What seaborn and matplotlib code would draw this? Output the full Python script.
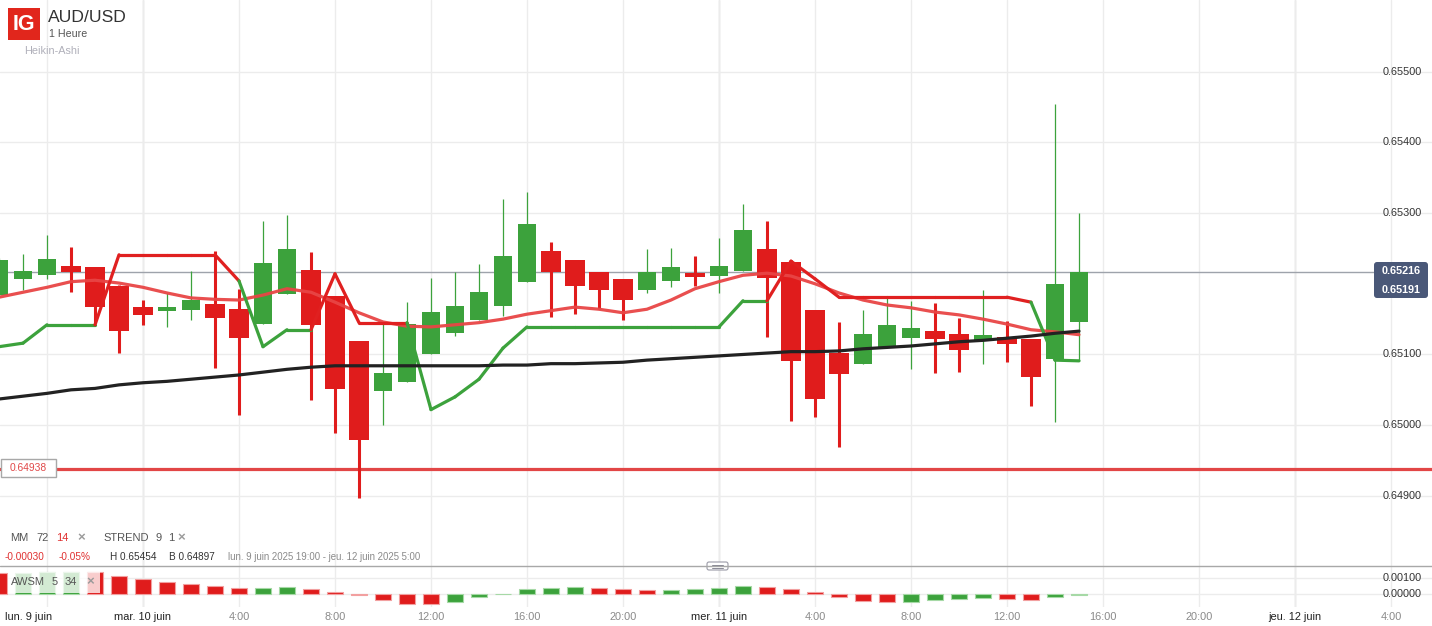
import matplotlib
matplotlib.use("Agg")
import matplotlib.pyplot as plt
import matplotlib.transforms as mtransforms
from matplotlib.patches import FancyBboxPatch, Rectangle
from matplotlib.lines import Line2D
import pandas as pd
import seaborn as sns

sns.set_theme(style="white")
plt.rcParams['font.family'] = ['Liberation Sans', 'DejaVu Sans']

W, H = 1432, 626

# Heures depuis mar. 10 juin 00:00 (bougies horaires Heikin-Ashi)
heures = list(range(-6, 40))
ha_open = [0.65184, 0.65207, 0.65212, 0.65225, 0.65224, 0.65197, 0.65167, 0.65162, 0.65163, 0.65171,
           0.65164, 0.65143, 0.65186, 0.65220, 0.65183, 0.65119, 0.65048, 0.65061, 0.65101, 0.65130,
           0.65149, 0.65169, 0.65203, 0.65246, 0.65234, 0.65217, 0.65207, 0.65191, 0.65204, 0.65215,
           0.65211, 0.65218, 0.65249, 0.65231, 0.65163, 0.65102, 0.65087, 0.65109, 0.65123, 0.65133,
           0.65129, 0.65121, 0.65125, 0.65122, 0.65094, 0.65146]
ha_close = [0.65234, 0.65218, 0.65235, 0.65217, 0.65167, 0.65133, 0.65156, 0.65167, 0.65177, 0.65152,
            0.65123, 0.65229, 0.65249, 0.65142, 0.65051, 0.64979, 0.65074, 0.65143, 0.65160, 0.65169,
            0.65188, 0.65239, 0.65285, 0.65217, 0.65197, 0.65191, 0.65177, 0.65217, 0.65224, 0.65210,
            0.65225, 0.65276, 0.65208, 0.65091, 0.65037, 0.65072, 0.65129, 0.65142, 0.65137, 0.65122,
            0.65106, 0.65128, 0.65115, 0.65068, 0.65200, 0.65216]
ha_high = [0.65236, 0.65242, 0.65269, 0.65252, 0.65224, 0.65198, 0.65177, 0.65187, 0.65218, 0.65246,
           0.65193, 0.65289, 0.65297, 0.65245, 0.65183, 0.65119, 0.65145, 0.65174, 0.65208, 0.65217,
           0.65228, 0.65320, 0.65330, 0.65259, 0.65234, 0.65217, 0.65207, 0.65249, 0.65251, 0.65239,
           0.65265, 0.65313, 0.65289, 0.65234, 0.65163, 0.65146, 0.65163, 0.65180, 0.65176, 0.65173,
           0.65152, 0.65191, 0.65147, 0.65122, 0.65454, 0.65300]
ha_low = [0.65181, 0.65191, 0.65207, 0.65188, 0.65145, 0.65102, 0.65142, 0.65139, 0.65149, 0.65081,
          0.65014, 0.65143, 0.65186, 0.65036, 0.64989, 0.64897, 0.65000, 0.65061, 0.65101, 0.65126,
          0.65149, 0.65154, 0.65203, 0.65153, 0.65157, 0.65164, 0.65149, 0.65187, 0.65195, 0.65197,
          0.65187, 0.65218, 0.65125, 0.65006, 0.65012, 0.64969, 0.65087, 0.65109, 0.65079, 0.65074,
          0.65075, 0.65087, 0.65089, 0.65027, 0.65005, 0.65091]

mm72 = [0.65037, 0.65041, 0.65045, 0.65050, 0.65052, 0.65057, 0.65060, 0.65062, 0.65065, 0.65068,
        0.65071, 0.65075, 0.65079, 0.65082, 0.65084, 0.65084, 0.65084, 0.65084, 0.65084, 0.65084,
        0.65084, 0.65085, 0.65085, 0.65087, 0.65087, 0.65088, 0.65089, 0.65092, 0.65094, 0.65096,
        0.65098, 0.65100, 0.65102, 0.65104, 0.65104, 0.65105, 0.65108, 0.65110, 0.65112, 0.65115,
        0.65118, 0.65120, 0.65123, 0.65126, 0.65130, 0.65133]
mm14 = [0.65181, 0.65188, 0.65195, 0.65203, 0.65205, 0.65201, 0.65195, 0.65187, 0.65180, 0.65178,
        0.65177, 0.65184, 0.65193, 0.65188, 0.65174, 0.65159, 0.65146, 0.65140, 0.65139, 0.65142,
        0.65145, 0.65150, 0.65157, 0.65162, 0.65167, 0.65164, 0.65159, 0.65164, 0.65177, 0.65193,
        0.65203, 0.65212, 0.65215, 0.65211, 0.65200, 0.65187, 0.65177, 0.65170, 0.65166, 0.65160,
        0.65156, 0.65150, 0.65143, 0.65135, 0.65132, 0.65128]
strend = [0.65111, 0.65116, 0.65142, 0.65142, 0.65142, 0.65241, 0.65241, 0.65241, 0.65241, 0.65241,
          0.65204, 0.65111, 0.65135, 0.65135, 0.65214, 0.65145, 0.65145, 0.65145, 0.65022, 0.65040,
          0.65065, 0.65109, 0.65139, 0.65139, 0.65139, 0.65139, 0.65139, 0.65139, 0.65139, 0.65139,
          0.65139, 0.65176, 0.65176, 0.65232, 0.65207, 0.65181, 0.65181, 0.65181, 0.65181, 0.65181,
          0.65181, 0.65181, 0.65181, 0.65174, 0.65092, 0.65091]
strend_dir = "ggggg" + "rrrrrr" + "ggg" + "rrrr" + "g" * 15 + "r" * 11 + "gg"
awsm = [0.00129, 0.00133, 0.00136, 0.00139, 0.00137, 0.00113, 0.00096, 0.00075, 0.00061, 0.00050,
        0.00036, 0.00039, 0.00046, 0.00031, 0.00014, -0.00008, -0.00038, -0.00063, -0.00064, -0.00052,
        -0.00021, 0.00003, 0.00031, 0.00038, 0.00042, 0.00039, 0.00031, 0.00023, 0.00027, 0.00031,
        0.00038, 0.00050, 0.00046, 0.00029, 0.00011, -0.00019, -0.00042, -0.00052, -0.00048, -0.00039,
        -0.00029, -0.00027, -0.00031, -0.00036, -0.00019, -0.00004]

niveau_rouge = 0.64938
dernier_prix = 0.65216
prix_ticks = [0.649, 0.650, 0.651, 0.653, 0.654, 0.655]
prix_labels = ["0.64900", "0.65000", "0.65100", "0.65300", "0.65400", "0.65500"]
awsm_ticks = [0.0, 0.001]
awsm_labels = ["0.00000", "0.00100"]
x_ticks = [0, 4, 8, 12, 16, 20, 24, 28, 32, 36, 40, 44, 48, 52]
x_labels = ["mar. 10 juin", "4:00", "8:00", "12:00", "16:00", "20:00", "mer. 11 juin",
            "4:00", "8:00", "12:00", "16:00", "20:00", "jeu. 12 juin", "4:00"]
jours = [0, 24, 48]

VERT = '#3ca23c'
ROUGE = '#e01c1c'

fig = plt.figure(figsize=(W / 100, H / 100), dpi=100)
fig.patch.set_facecolor('white')
pix = mtransforms.Affine2D().scale(1 / W, -1 / H).translate(0, 1) + fig.transFigure

ax = fig.add_axes([0, 1 - 566 / H, 1, 566 / H])
axb = fig.add_axes([0, 1 - 607 / H, 1, (607 - 566) / H])

for a in (ax, axb):
    a.set_facecolor('white')
    for s in a.spines.values():
        s.set_visible(False)
    a.set_xticks(list(range(-4, 56, 4)))
    a.grid(True, color='#ececec', lw=1)
    a.tick_params(length=0, labelbottom=False, labelleft=False)
    for j in jours:
        a.axvline(j, color='#d6d6d6', lw=1, zorder=0.5)

# bougies
df = pd.DataFrame(dict(h=heures, o=ha_open, hi=ha_high, lo=ha_low, c=ha_close))
df['up'] = df.c >= df.o
up, dn = df[df.up], df[~df.up]
ax.vlines(up.h, up.lo, up.hi, color=VERT, lw=0.9, zorder=2)
ax.vlines(dn.h, dn.lo, dn.hi, color=ROUGE, lw=2.2, zorder=2)
ax.bar(up.h, (up.c - up.o), bottom=up.o, width=0.75, color=VERT, lw=0, zorder=2)
ax.bar(dn.h, (dn.o - dn.c), bottom=dn.c, width=0.83, color=ROUGE, lw=0, zorder=2)

# moyennes mobiles
sns.lineplot(x=heures, y=mm72, ax=ax, color='#222222', lw=2.3, zorder=4)
sns.lineplot(x=heures, y=mm14, ax=ax, color='#e84545', lw=2.3, alpha=0.95, zorder=3)

# supertrend
for i in range(1, len(heures)):
    col = VERT if strend_dir[i] == 'g' else '#e02020'
    ax.plot(heures[i - 1:i + 1], strend[i - 1:i + 1], color=col, lw=2.3, zorder=3.5,
            solid_capstyle='round')

ax.axhline(dernier_prix, xmax=1374 / W, color='#9ea3ab', lw=1, zorder=1.5)
ax.axhline(niveau_rouge, color='#e24646', lw=2.3, zorder=1.5)

ax.set_yticks(prix_ticks)
ax.set_xlim(-143 / 24, (W - 143) / 24)
ax.set_ylim(0.648008, 0.656014)

# AWSM
cols = [ROUGE]
for i in range(1, len(awsm)):
    cols.append(VERT if awsm[i] > awsm[i - 1] else ROUGE)
edges = ['#f2a0a0' if c == ROUGE else '#a6d9a6' for c in cols]
axb.bar(heures, awsm, width=0.7, color=cols, edgecolor=edges, lw=0.8, zorder=2)
axb.set_yticks(awsm_ticks)
axb.set_xlim(-143 / 24, (W - 143) / 24)
axb.set_ylim(-0.0008125, 0.00175)


def t(x, y, s, **kw):
    kw.setdefault('va', 'center')
    return fig.text(x / W, 1 - y / H, s, **kw)


# axe des prix
ty = mtransforms.blended_transform_factory(fig.transFigure, ax.transData)
for v, lab in zip(prix_ticks, prix_labels):
    fig.text(1383 / W, v, lab, transform=ty, va='center', ha='left', fontsize=7.8, color='#333333')
tyb = mtransforms.blended_transform_factory(fig.transFigure, axb.transData)
for v, lab in zip(awsm_ticks, awsm_labels):
    fig.text(1383 / W, v, lab, transform=tyb, va='center', ha='left', fontsize=7.8, color='#333333')

# axe du temps
tx = mtransforms.blended_transform_factory(axb.transData, fig.transFigure)
for h, lab in zip(x_ticks, x_labels):
    jour = h in jours
    fig.text(h, 1 - 617 / H, lab, transform=tx, ha='center', va='center', fontsize=7.9,
             color='#222222' if jour else '#8a8a8a')
t(5, 617, "lun. 9 juin", ha='left', fontsize=7.9, color='#222222')

# séparateur
fig.add_artist(Line2D([0, W], [566, 566], transform=pix, color='#a8a8a8', lw=1))
fig.add_artist(FancyBboxPatch((707, 562), 21, 8, boxstyle="round,pad=0,rounding_size=2",
                              transform=pix, fc='white', ec='#9a9aa6', lw=0.8))
for yy in (565, 567.5):
    fig.add_artist(Line2D([712, 723], [yy, yy], transform=pix, color='#8a8a96', lw=0.7))

# étiquette dernier prix
fig.add_artist(FancyBboxPatch((1374, 262), 54, 36, boxstyle="round,pad=0,rounding_size=3",
                              transform=pix, fc='#4a5878', ec='none'))
t(1401, 271, "0.65216", ha='center', fontsize=7.8, color='white', weight='bold')
t(1401, 290, "0.65191", ha='center', fontsize=7.8, color='white', weight='bold')

# étiquette niveau
fig.add_artist(Rectangle((0.5, 459), 55, 18, transform=pix, fc='white', ec='#a8a8a8', lw=1))
t(28, 468, "0.64938", ha='center', fontsize=7.4, color='#e04848')

# en-tête
fig.add_artist(Rectangle((8, 8), 32, 32, transform=pix, fc='#e1261c', ec='none'))
t(24, 25, "IG", ha='center', fontsize=15.5, color='white', weight='bold')
t(48, 17, "AUD/USD", ha='left', fontsize=12.6, color='#333333')
t(49, 34, "1 Heure", ha='left', fontsize=7.7, color='#555555')
t(24, 51, "Heikin-Ashi", ha='left', fontsize=7.8, color='#b0b0ba')

# légendes
g = '#555555'
t(10, 538, "MM", fontsize=8, color=g)
t(36, 538, "72", fontsize=8, color=g)
t(56, 538, "14", fontsize=8, color='#e03030')
t(77, 538, "×", fontsize=9.5, color='#9a9a9a', weight='bold')
t(103, 538, "STREND", fontsize=8, color=g)
t(155, 538, "9", fontsize=8, color=g)
t(168, 538, "1", fontsize=8, color=g)
t(177, 538, "×", fontsize=9.5, color='#9a9a9a', weight='bold')

t(5, 557, "-0.00030", fontsize=7.2, color='#e03030')
t(59, 557, "-0.05%", fontsize=7.2, color='#e03030')
t(110, 557, "H 0.65454", fontsize=7.2, color='#333333')
t(169, 557, "B 0.64897", fontsize=7.2, color='#333333')
t(228, 557, "lun. 9 juin 2025 19:00 - jeu. 12 juin 2025 5:00", fontsize=6.9, color='#8a8a8a')

fig.add_artist(Rectangle((8, 571.5), 92, 21, transform=pix, fc='white', ec='none', alpha=0.78))
t(11, 582, "AWSM", fontsize=8, color=g)
t(52, 582, "5", fontsize=8, color=g)
t(65, 582, "34", fontsize=8, color=g)
t(86, 582, "×", fontsize=9.5, color='#9a9a9a', weight='bold')

fig.savefig('out.png', dpi=100, facecolor='white')
plt.close(fig)
